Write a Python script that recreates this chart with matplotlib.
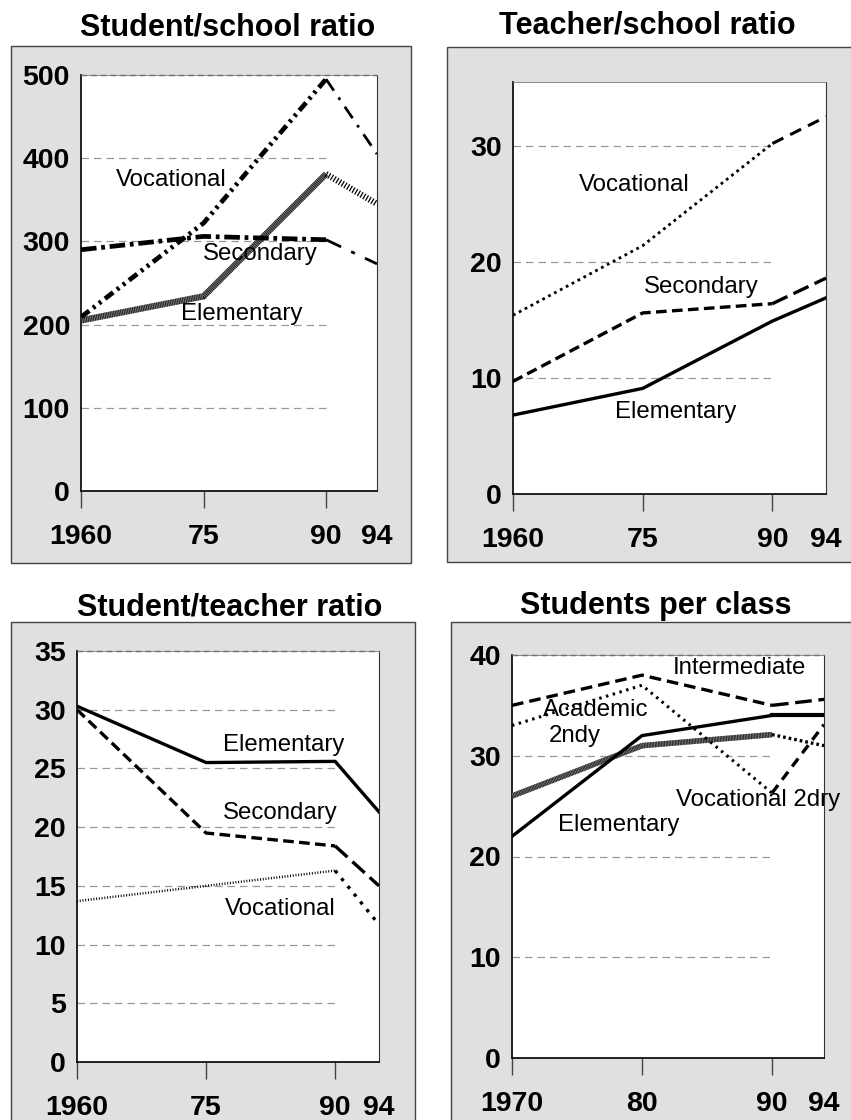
import numpy as np
import matplotlib
matplotlib.use('Agg')
import matplotlib.pyplot as plt
from matplotlib.patches import Rectangle
from matplotlib.scale import FuncScale

plt.rcParams['font.family'] = ['Liberation Sans', 'DejaVu Sans']

# ---------------- data ----------------
years_a = [1960, 1975, 1990, 1994]
year_labels_a = ['1960', '75', '90', '94']
years_b = [1970, 1980, 1990, 1994]
year_labels_b = ['1970', '80', '90', '94']

ss_vocational = [209, 322, 495, 405]
ss_secondary = [290, 306, 302, 273]
ss_elementary = [205, 234, 381, 345]

ts_vocational = [15.4, 21.4, 30.2, 32.5]
ts_secondary = [9.7, 15.6, 16.4, 18.6]
ts_elementary = [6.8, 9.1, 14.9, 16.9]

st_elementary = [30.3, 25.5, 25.6, 21.3]
st_secondary = [30.0, 19.5, 18.4, 15.0]
st_vocational = [13.7, 15.0, 16.3, 11.7]

pc_intermediate = [35.0, 38.0, 35.0, 35.6]
pc_vocational2 = [33.0, 37.0, 26.3, 33.1]
pc_academic = [26.0, 31.0, 32.1, 31.0]
pc_elementary = [22.0, 32.0, 34.0, 34.0]

yticks_ss = [0, 100, 200, 300, 400, 500]
yticks_ts = [0, 10, 20, 30]
yticks_st = [0, 5, 10, 15, 20, 25, 30, 35]
yticks_pc = [0, 10, 20, 30, 40]

titles = ['Student/school ratio', 'Teacher/school ratio',
          'Student/teacher ratio', 'Students per class']

# ---------------- layout helpers ----------------
W, H = 851, 1120
fig = plt.figure(figsize=(W / 100, H / 100), dpi=100)
fig.patch.set_facecolor('white')


def frect(x0, y0, x1, y1):
    return [x0 / W, 1 - y1 / H, (x1 - x0) / W, (y1 - y0) / H]


def box(x0, y0, x1, y1):
    fig.add_artist(Rectangle((x0 / W, 1 - y1 / H), (x1 - x0) / W, (y1 - y0) / H,
                             transform=fig.transFigure, facecolor='#e0e0e0',
                             edgecolor='#444444', lw=1.0, zorder=0))


def stretch_scale(gap):
    def fwd(x):
        x = np.asarray(x, dtype=float)
        return np.where(x <= 1990, x - 1960, 30 + (x - 1990) * gap / 4.0)

    def inv(y):
        y = np.asarray(y, dtype=float)
        return np.where(y <= 30, y + 1960, 1990 + (y - 30) * 4.0 / gap)
    return fwd, inv


TICKFS = 20.5
LABFS = 17.3
TITLEFS = 22


def setup(ax, years, xlabels, ylim, yticks, grid_to, top_grid=True, gap=None):
    if gap is not None:
        ax.set_xscale(FuncScale(ax, stretch_scale(gap)))
    ax.set_xlim(years[0], years[-1])
    ax.set_ylim(*ylim)
    ax.set_xticks(years)
    ax.set_xticklabels(xlabels, fontsize=TICKFS, fontweight='bold')
    ax.set_yticks(yticks)
    ax.set_yticklabels([str(t) for t in yticks], fontsize=TICKFS, fontweight='bold')
    ax.tick_params(axis='x', length=12.5, width=1, color='#444444', pad=11)
    ax.tick_params(axis='y', length=0, pad=8)
    ax.xaxis.get_major_ticks()[-1].tick1line.set_visible(False)
    ax.minorticks_off()
    for s in ['left', 'bottom']:
        ax.spines[s].set_color('#111111')
        ax.spines[s].set_linewidth(1.3)
    ax.spines['right'].set_color('#333333')
    ax.spines['right'].set_linewidth(0.8)
    ax.spines['top'].set_color('#777777')
    ax.spines['top'].set_linewidth(0.6)
    for t in yticks:
        if t == 0:
            continue
        if t >= ylim[1] and top_grid:
            ax.hlines(t, years[0], years[-1], colors='#555555', lw=1.0,
                      linestyles=(0, (4, 3)), zorder=1, clip_on=False)
        elif t < ylim[1]:
            ax.hlines(t, years[0], grid_to, colors='#999999', lw=0.9,
                      linestyles=(0, (6, 4)), zorder=1)


def hatched(ax, x, y, lw=4.5, base='#7a7a7a'):
    ax.plot(x, y, color=base, lw=lw, solid_capstyle='butt', zorder=3)
    ax.plot(x, y, color='#111111', lw=lw, linestyle=(0, (0.12, 0.16)),
            dash_capstyle='butt', zorder=3)


def two_part(ax, x, y, style1, style2):
    ax.plot(x[:3], y[:3], zorder=4, **style1)
    ax.plot(x[2:], y[2:], zorder=4, **style2)


# ---------------- panel 1 ----------------
box(11, 46, 411, 563)
ax1 = fig.add_axes(frect(81, 75, 377, 491))
setup(ax1, years_a, year_labels_a, (0, 500), yticks_ss, 1990, gap=6.24)
two_part(ax1, years_a, ss_vocational,
         dict(color='black', lw=3.4, linestyle=(0, (2.2, 1.0, 0.6, 1.0, 0.6, 1.0)), dash_capstyle='butt'),
         dict(color='black', lw=2.0, linestyle=(0, (5, 3, 1, 3)), dash_capstyle='butt'))
two_part(ax1, years_a, ss_secondary,
         dict(color='black', lw=3.4, linestyle=(0, (3.3, 1.0, 0.8, 1.0)), dash_capstyle='butt'),
         dict(color='black', lw=2.0, linestyle=(0, (6, 4, 1.5, 4)), dash_capstyle='butt'))
hatched(ax1, years_a[:3], ss_elementary[:3])
ax1.plot(years_a[2:], ss_elementary[2:], color='black', lw=4.5,
         linestyle=(0, (0.2, 0.3)), dash_capstyle='butt', zorder=3)
ax1.text(1971.1, 374, 'Vocational', fontsize=LABFS, ha='center', va='center', zorder=5)
ax1.text(1981.9, 285, 'Secondary', fontsize=LABFS, ha='center', va='center', zorder=5)
ax1.text(1979.7, 213, 'Elementary', fontsize=LABFS, ha='center', va='center', zorder=5)
fig.text(227.5 / W, 1 - 27 / H, titles[0], fontsize=TITLEFS, fontweight='bold',
         ha='center', va='center')

# ---------------- panel 2 ----------------
box(447, 46.5, 853, 562)
ax2 = fig.add_axes(frect(513, 82, 826, 494))
setup(ax2, years_a, year_labels_a, (0, 35.5), yticks_ts, 1990, top_grid=False, gap=6.2)
two_part(ax2, years_a, ts_vocational,
         dict(color='black', lw=2.0, linestyle=(0, (1.0, 1.4))),
         dict(color='black', lw=2.2, linestyle=(0, (4, 2.5))))
two_part(ax2, years_a, ts_secondary,
         dict(color='black', lw=2.4, linestyle=(0, (3.2, 1.6))),
         dict(color='black', lw=2.4, linestyle=(0, (5, 2))))
ax2.plot(years_a, ts_elementary, color='black', lw=2.4, zorder=4)
ax2.text(1974.0, 26.6, 'Vocational', fontsize=LABFS, ha='center', va='center', zorder=5)
ax2.text(1981.8, 17.8, 'Secondary', fontsize=LABFS, ha='center', va='center', zorder=5)
ax2.text(1978.8, 7.1, 'Elementary', fontsize=LABFS, ha='center', va='center', zorder=5)
fig.text(647 / W, 1 - 26 / H, titles[1], fontsize=TITLEFS, fontweight='bold',
         ha='center', va='center')

# ---------------- panel 3 ----------------
box(11, 622, 415, 1122)
ax3 = fig.add_axes(frect(77, 651, 379, 1062))
setup(ax3, years_a, year_labels_a, (0, 35), yticks_st, 1990, gap=5.1)
ax3.plot(years_a, st_elementary, color='black', lw=2.4, zorder=4)
two_part(ax3, years_a, st_secondary,
         dict(color='black', lw=2.4, linestyle=(0, (3.2, 1.6))),
         dict(color='black', lw=2.4, linestyle=(0, (5, 2))))
two_part(ax3, years_a, st_vocational,
         dict(color='black', lw=1.8, linestyle=(0, (0.4, 0.7)), dash_capstyle='butt'),
         dict(color='black', lw=2.4, linestyle=(0, (1, 2))))
ax3.text(1984.0, 27.0, 'Elementary', fontsize=LABFS, ha='center', va='center', zorder=5)
ax3.text(1983.6, 21.2, 'Secondary', fontsize=LABFS, ha='center', va='center', zorder=5)
ax3.text(1983.6, 13.0, 'Vocational', fontsize=LABFS, ha='center', va='center', zorder=5)
fig.text(230 / W, 1 - 607 / H, titles[2], fontsize=TITLEFS, fontweight='bold',
         ha='center', va='center')

# ---------------- panel 4 ----------------
box(451, 622, 853, 1122)
ax4 = fig.add_axes(frect(512, 655, 824, 1058))
setup(ax4, years_b, year_labels_b, (0, 40), yticks_pc, 1990)
two_part(ax4, years_b, pc_intermediate,
         dict(color='black', lw=2.4, linestyle=(0, (3.5, 1.8))),
         dict(color='black', lw=2.4, linestyle=(0, (5, 2))))
two_part(ax4, years_b, pc_vocational2,
         dict(color='black', lw=2.2, linestyle=(0, (0.8, 1.5))),
         dict(color='black', lw=2.4, linestyle=(0, (3, 2))))
two_part(ax4, years_b, pc_elementary,
         dict(color='black', lw=2.4),
         dict(color='black', lw=3.0))
hatched(ax4, years_b[:3], pc_academic[:3], lw=4.0)
ax4.plot(years_b[2:], pc_academic[2:], color='black', lw=2.4,
         linestyle=(0, (0.8, 0.9)), zorder=3)
ax4.text(1987.5, 38.7, 'Intermediate', fontsize=LABFS, ha='center', va='center', zorder=5)
ax4.text(1972.4, 34.5, 'Academic', fontsize=LABFS, ha='left', va='center', zorder=5)
ax4.text(1972.8, 32.0, '2ndy', fontsize=LABFS, ha='left', va='center', zorder=5)
ax4.text(1988.9, 25.6, 'Vocational 2dry', fontsize=LABFS, ha='center', va='center', zorder=5)
ax4.text(1978.2, 23.1, 'Elementary', fontsize=LABFS, ha='center', va='center', zorder=5)
fig.text(656 / W, 1 - 606 / H, titles[3], fontsize=TITLEFS, fontweight='bold',
         ha='center', va='center')

fig.savefig('out.png', dpi=100)
